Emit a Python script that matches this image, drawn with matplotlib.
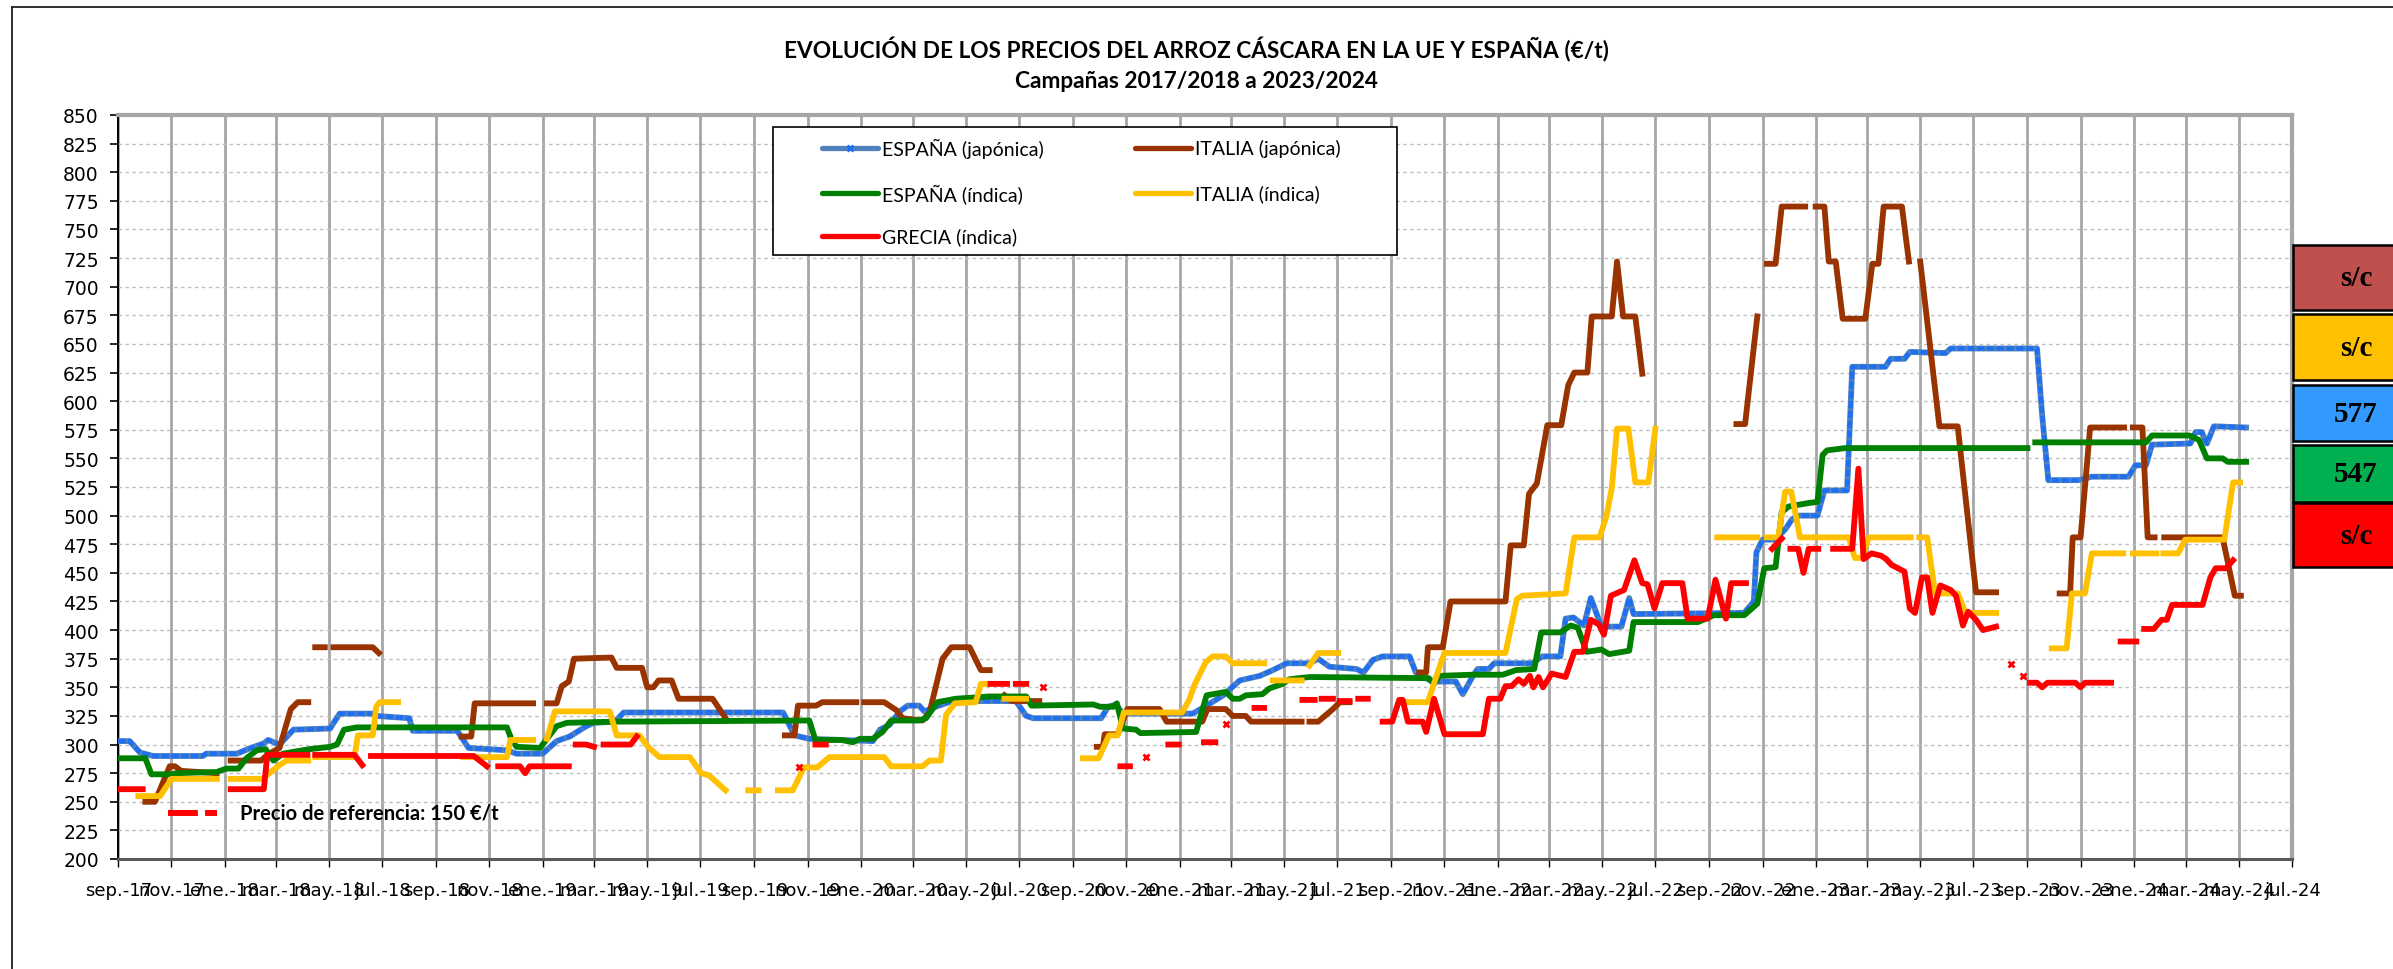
import matplotlib
matplotlib.use("Agg")
import matplotlib.pyplot as plt
from matplotlib.patches import Rectangle
from matplotlib.lines import Line2D
import numpy as np
import pandas as pd

# ---------------- DATA ----------------
esp_japonica = [
    ("2017-09-01",303),("2017-09-14",303),("2017-09-26",293),("2017-10-11",290),("2017-12-07",290),
    ("2017-12-11",292),("2018-01-15",292),("2018-01-31",297),("2018-02-15",301),("2018-02-20",304),
    ("2018-03-05",300),("2018-03-21",313),("2018-05-02",314),("2018-05-13",327),("2018-06-20",327),
    ("2018-06-24",325),("2018-07-13",324),("2018-08-01",323),("2018-08-05",312),("2018-09-25",312),
    ("2018-10-08",297),("2018-11-21",295),("2018-12-02",292),("2019-01-01",292),("2019-01-17",303),
    ("2019-02-01",307),("2019-02-20",316),("2019-03-01",319),("2019-03-25",320),("2019-04-04",328),
    ("2019-10-04",328),("2019-10-17",308),("2019-11-03",305),("2020-01-15",303),("2020-01-23",313),
    ("2020-02-03",317),("2020-02-15",329),("2020-02-24",334),("2020-03-08",334),("2020-03-14",329),
    ("2020-03-27",333),("2020-04-15",338),("2020-06-27",338),("2020-07-09",325),("2020-07-17",323),
    ("2020-10-03",323),("2020-10-11",333),("2020-10-20",335),("2020-10-28",327),("2021-01-16",327),
    ("2021-02-01",334),("2021-02-20",343),("2021-03-11",356),("2021-04-03",360),("2021-04-18",365),
    ("2021-05-04",371),("2021-05-30",371),("2021-06-09",375),("2021-06-22",368),("2021-07-23",366),
    ("2021-07-31",363),("2021-08-11",374),("2021-08-22",377),("2021-09-22",377),("2021-09-29",363),
    ("2021-10-18",355),("2021-11-14",355),("2021-11-22",344),("2021-12-03",359),("2021-12-09",366),
    ("2021-12-22",366),("2021-12-28",371),("2022-02-10",371),("2022-02-21",377),("2022-03-14",377),
    ("2022-03-20",410),("2022-03-29",411),("2022-04-10",404),("2022-04-18",428),("2022-04-30",403),
    ("2022-05-23",403),("2022-06-01",428),("2022-06-06",414),("2022-10-11",415),("2022-10-22",425),
    ("2022-10-25",468),("2022-11-01",479),("2022-11-16",479),("2022-11-28",489),("2022-12-05",497),
    ("2022-12-13",500),("2023-01-03",500),("2023-01-11",522),("2023-02-06",522),("2023-02-12",630),
    ("2023-03-22",630),("2023-03-28",637),("2023-04-13",637),("2023-04-19",643),("2023-05-30",642),
    ("2023-06-05",646),("2023-09-12",646),("2023-09-18",587),("2023-09-25",531),("2023-10-30",531),
    ("2023-11-14",534),("2023-12-26",534),("2024-01-03",544),("2024-01-15",544),("2024-01-22",562),
    ("2024-03-06",563),("2024-03-12",573),("2024-03-19",573),("2024-03-25",563),("2024-04-02",578),
    ("2024-05-09",577),
]

ita_japonica = [
    ("2017-10-02",250),("2017-10-13",250),("2017-10-30",281),("2017-11-05",281),("2017-11-12",277),
    ("2017-12-23",275),None,
    ("2018-01-08",286),("2018-02-12",286),("2018-02-19",291),("2018-03-05",297),("2018-03-18",331),
    ("2018-03-26",337),("2018-04-07",337),None,
    ("2018-04-15",385),("2018-04-26",385),None,
    ("2018-05-06",385),("2018-06-20",385),("2018-06-27",380),None,
    ("2018-09-30",307),("2018-10-11",307),("2018-10-15",336),("2018-12-21",336),None,
    ("2019-01-06",336),("2019-01-17",336),("2019-01-23",351),("2019-01-31",355),("2019-02-06",375),
    ("2019-03-21",376),("2019-03-27",367),("2019-04-25",367),("2019-05-01",350),("2019-05-08",350),
    ("2019-05-14",356),("2019-05-29",356),("2019-06-06",340),("2019-07-15",340),("2019-07-30",323),None,
    ("2019-10-06",308),("2019-10-17",308),("2019-10-21",334),("2019-11-11",334),("2019-11-18",337),
    ("2019-12-27",337),None,
    ("2020-01-05",337),("2020-01-28",337),("2020-02-03",334),("2020-02-11",330),("2020-02-18",323),
    ("2020-03-12",321),("2020-03-20",328),("2020-04-04",375),("2020-04-14",385),("2020-05-05",385),
    ("2020-05-18",365),("2020-05-28",365),None,
    ("2020-06-14",343),("2020-06-22",338),("2020-07-24",338),None,
    ("2020-09-28",298),("2020-10-05",298),("2020-10-07",309),("2020-10-22",309),("2020-11-02",331),
    ("2020-12-09",331),("2020-12-17",320),("2021-01-27",320),("2021-02-02",331),("2021-02-23",331),
    ("2021-03-03",325),("2021-03-18",325),("2021-03-24",320),("2021-05-21",320),None,
    ("2021-05-30",320),("2021-06-09",320),("2021-06-26",331),("2021-07-04",337),("2021-07-15",337),None,
    ("2021-10-03",363),("2021-10-11",363),("2021-10-13",385),("2021-10-30",385),("2021-11-08",425),
    ("2022-01-10",425),("2022-01-16",474),("2022-01-31",474),("2022-02-06",519),("2022-02-15",528),
    ("2022-02-27",579),("2022-03-15",579),("2022-03-23",614),("2022-03-30",625),("2022-04-14",625),
    ("2022-04-19",674),("2022-05-12",674),("2022-05-18",722),("2022-05-25",674),("2022-06-08",674),
    ("2022-06-16",624),None,
    ("2022-10-02",580),("2022-10-12",580),("2022-10-26",674),None,
    ("2022-11-06",720),("2022-11-16",720),("2022-11-23",770),("2022-12-20",770),None,
    ("2023-01-01",770),("2023-01-11",770),("2023-01-16",722),("2023-01-24",722),("2023-02-01",672),
    ("2023-02-27",672),("2023-03-07",720),("2023-03-14",720),("2023-03-20",770),("2023-04-10",770),
    ("2023-04-18",722),None,
    ("2023-05-01",722),("2023-05-23",578),("2023-06-13",578),("2023-07-04",433),("2023-07-27",433),None,
    ("2023-10-08",432),("2023-10-20",432),("2023-10-23",481),("2023-11-01",481),("2023-11-12",577),
    ("2023-12-21",577),None,
    ("2023-12-31",577),("2024-01-11",577),("2024-01-17",481),("2024-01-25",481),None,
    ("2024-02-05",481),("2024-04-12",481),("2024-04-26",430),("2024-05-03",430),
]

esp_indica = [
    ("2017-09-01",288),("2017-10-02",288),("2017-10-09",274),("2017-11-01",274),("2017-11-07",275),
    ("2017-12-23",276),("2018-01-03",279),("2018-01-17",279),("2018-01-26",288),("2018-02-07",295),
    ("2018-02-17",296),("2018-02-26",286),("2018-03-09",292),("2018-03-24",294),("2018-04-09",296),
    ("2018-05-02",298),("2018-05-10",300),("2018-05-18",313),("2018-06-02",315),("2018-11-21",315),
    ("2018-11-26",305),("2018-12-02",298),("2018-12-29",297),("2019-01-06",305),("2019-01-17",316),
    ("2019-01-29",319),("2019-03-27",320),("2019-11-03",321),("2019-11-10",304),("2019-12-10",304),
    ("2019-12-23",302),("2019-12-31",305),("2020-01-15",305),("2020-01-26",311),("2020-02-05",321),
    ("2020-03-08",321),("2020-03-16",323),("2020-03-29",337),("2020-04-19",340),("2020-05-28",342),
    ("2020-07-09",342),("2020-07-15",334),("2020-09-24",335),("2020-10-02",333),("2020-10-17",333),
    ("2020-10-21",336),("2020-10-28",314),("2020-11-12",313),("2020-11-17",310),("2021-01-20",311),
    ("2021-02-01",343),("2021-02-23",346),("2021-03-03",340),("2021-03-11",340),("2021-03-18",343),
    ("2021-04-06",344),("2021-04-14",349),("2021-04-29",353),("2021-05-07",357),("2021-05-30",359),
    ("2021-10-14",358),("2021-10-20",353),("2021-10-26",360),("2021-12-03",361),("2022-01-07",361),
    ("2022-01-22",365),("2022-02-12",366),("2022-02-20",398),("2022-03-14",398),("2022-03-26",404),
    ("2022-04-03",402),("2022-04-13",381),("2022-04-30",383),("2022-05-09",379),("2022-06-01",382),
    ("2022-06-06",407),("2022-08-19",407),("2022-09-06",413),("2022-10-11",413),("2022-10-20",419),
    ("2022-10-26",423),("2022-11-03",454),("2022-11-16",455),("2022-11-23",503),("2022-12-01",508),
    ("2022-12-24",511),("2023-01-03",512),("2023-01-09",553),("2023-01-14",557),("2023-02-04",559),
    ("2023-09-01",559),None,
    ("2023-09-10",564),("2024-01-15",564),("2024-01-22",570),("2024-03-05",570),("2024-03-16",566),
    ("2024-03-25",550),("2024-04-12",550),("2024-04-18",547),("2024-05-09",547),
]

ita_indica = [
    ("2017-09-24",255),("2017-10-19",255),("2017-11-01",270),("2017-12-23",270),None,
    ("2018-01-08",270),("2018-02-13",270),("2018-02-23",276),("2018-03-05",282),("2018-03-13",286),
    ("2018-04-07",286),None,
    ("2018-04-15",289),("2018-05-30",289),("2018-06-03",308),("2018-06-20",308),("2018-06-24",333),
    ("2018-06-28",337),("2018-07-19",337),None,
    ("2018-10-02",289),("2018-11-21",289),("2018-11-25",304),("2018-12-21",304),None,
    ("2019-01-06",305),("2019-01-15",329),("2019-03-19",329),("2019-03-27",308),("2019-04-22",308),
    ("2019-05-02",298),("2019-05-15",289),("2019-06-19",289),("2019-07-02",275),("2019-07-11",273),
    ("2019-07-30",260),None,
    ("2019-08-25",260),("2019-09-06",260),None,
    ("2019-09-28",260),("2019-10-15",260),("2019-10-28",280),("2019-11-12",280),("2019-11-26",289),
    ("2020-01-28",289),("2020-02-05",281),("2020-03-12",281),("2020-03-20",286),("2020-04-02",286),
    ("2020-04-08",326),("2020-04-18",336),("2020-05-12",337),("2020-05-18",353),("2020-05-28",353),None,
    ("2020-06-14",340),("2020-07-09",340),None,
    ("2020-09-12",288),("2020-09-30",288),("2020-10-12",308),("2020-10-22",308),("2020-10-29",328),
    ("2021-01-04",328),("2021-01-12",339),("2021-01-18",352),("2021-01-31",372),("2021-02-08",377),
    ("2021-02-23",377),("2021-03-03",371),("2021-04-08",371),None,
    ("2021-04-18",356),("2021-05-21",356),None,
    ("2021-05-30",369),("2021-06-09",380),("2021-07-02",380),None,
    ("2021-09-20",337),("2021-10-13",337),("2021-10-22",358),("2021-11-01",380),("2022-01-10",380),
    ("2022-01-23",427),("2022-01-29",430),("2022-03-20",432),("2022-03-30",481),("2022-04-28",481),
    ("2022-05-06",500),("2022-05-12",524),("2022-05-18",576),("2022-05-31",576),("2022-06-08",529),
    ("2022-06-23",529),("2022-07-01",576),None,
    ("2022-09-10",481),("2022-10-26",481),None,
    ("2022-11-06",481),("2022-11-19",481),("2022-11-27",521),("2022-12-04",521),("2022-12-14",481),
    ("2022-12-27",481),None,
    ("2023-01-01",481),("2023-02-08",481),("2023-02-15",463),("2023-02-23",463),("2023-03-03",481),
    ("2023-04-20",481),None,
    ("2023-04-30",481),("2023-05-09",481),("2023-05-18",432),("2023-06-13",432),("2023-06-22",415),
    ("2023-07-27",415),None,
    ("2023-09-29",384),("2023-10-16",384),("2023-10-22",432),("2023-11-06",432),("2023-11-14",467),
    ("2023-12-20",467),None,
    ("2023-12-31",467),("2024-01-27",467),None,
    ("2024-02-04",467),("2024-02-21",467),("2024-02-29",479),("2024-04-14",479),("2024-04-24",529),
    ("2024-05-02",529),
]

grecia_indica = [
    ("2017-09-01",261),("2017-09-29",261),None,
    ("2018-01-08",261),("2018-02-15",261),("2018-02-19",291),("2018-04-06",291),None,
    ("2018-04-15",291),("2018-05-30",291),("2018-06-08",282),None,
    ("2018-06-18",290),("2018-10-14",290),("2018-10-29",281),None,
    ("2018-11-11",281),("2018-12-06",281),("2018-12-12",275),("2018-12-17",281),("2019-01-31",281),None,
    ("2019-02-08",300),("2019-02-20",300),("2019-03-01",298),None,
    ("2019-03-12",300),("2019-04-12",300),("2019-04-19",307),None,
    ("2019-11-10",300),("2019-11-22",300),None,
    ("2020-05-29",353),("2020-06-17",353),None,
    ("2020-06-27",353),("2020-07-09",353),None,
    ("2020-10-25",281),("2020-11-05",281),None,
    ("2020-12-19",300),("2020-12-31",300),None,
    ("2021-01-29",302),("2021-02-11",302),None,
    ("2021-03-28",332),("2021-04-08",332),None,
    ("2021-05-22",339),("2021-06-05",339),None,
    ("2021-06-13",340),("2021-06-26",340),None,
    ("2021-07-04",338),("2021-07-15",338),None,
    ("2021-07-25",340),("2021-08-05",340),None,
    ("2021-08-22",320),("2021-09-02",320),("2021-09-10",339),("2021-09-14",339),("2021-09-20",320),
    ("2021-10-07",320),("2021-10-11",311),("2021-10-20",340),("2021-11-01",309),("2021-12-15",309),
    ("2021-12-22",340),("2022-01-04",340),("2022-01-10",351),("2022-01-17",351),("2022-01-25",357),
    ("2022-01-31",353),("2022-02-07",360),("2022-02-11",350),("2022-02-17",359),("2022-02-22",350),
    ("2022-03-04",362),("2022-03-20",359),("2022-03-30",381),("2022-04-09",381),("2022-04-18",409),
    ("2022-04-27",405),("2022-05-03",396),("2022-05-11",430),("2022-05-26",435),("2022-06-07",461),
    ("2022-06-16",441),("2022-06-22",440),("2022-06-30",419),("2022-07-09",441),("2022-08-01",441),
    ("2022-08-07",410),("2022-08-30",410),("2022-09-08",444),("2022-09-20",410),("2022-09-26",441),
    ("2022-10-13",441),None,
    ("2022-11-12",471),("2022-11-23",480),None,
    ("2022-12-03",471),("2022-12-12",471),("2022-12-18",450),("2022-12-24",471),("2023-01-04",471),None,
    ("2023-01-21",471),("2023-02-12",471),("2023-02-19",541),("2023-02-25",462),("2023-03-06",467),
    ("2023-03-17",465),("2023-03-23",462),("2023-03-29",457),("2023-04-13",451),("2023-04-19",419),
    ("2023-04-25",415),("2023-05-03",446),("2023-05-09",446),("2023-05-15",415),("2023-05-24",439),
    ("2023-06-05",435),("2023-06-11",430),("2023-06-19",404),("2023-06-25",416),("2023-07-04",409),
    ("2023-07-12",400),("2023-07-27",403),None,
    ("2023-09-04",354),("2023-09-12",354),("2023-09-18",350),("2023-09-24",354),("2023-10-26",354),
    ("2023-11-01",350),("2023-11-06",354),("2023-12-06",354),None,
    ("2023-12-17",390),("2024-01-04",390),None,
    ("2024-01-13",401),("2024-01-24",401),("2024-02-02",409),("2024-02-08",409),("2024-02-14",422),
    ("2024-03-20",422),("2024-03-29",446),("2024-04-04",454),("2024-04-16",454),("2024-04-24",461),
]

grecia_single_points = [
    ("2019-10-22",280),("2020-07-28",350),("2020-11-23",289),("2021-02-23",318),
    ("2023-08-13",370),("2023-08-27",360),
]

series_names = ["ESPAÑA (japónica)", "ITALIA (japónica)", "ESPAÑA (índica)",
                "ITALIA (índica)", "GRECIA (índica)"]

tick_labels = [
    "sep.-17","nov.-17","ene.-18","mar.-18","may.-18","jul.-18",
    "sep.-18","nov.-18","ene.-19","mar.-19","may.-19","jul.-19",
    "sep.-19","nov.-19","ene.-20","mar.-20","may.-20","jul.-20",
    "sep.-20","nov.-20","ene.-21","mar.-21","may.-21","jul.-21",
    "sep.-21","nov.-21","ene.-22","mar.-22","may.-22","jul.-22",
    "sep.-22","nov.-22","ene.-23","mar.-23","may.-23","jul.-23",
    "sep.-23","nov.-23","ene.-24","mar.-24","may.-24","jul.-24",
]

last_values = ["s/c", "s/c", "577", "547", "s/c"]   # ITALIA jap, ITALIA ind, ESPAÑA jap, ESPAÑA ind, GRECIA

title_1 = "EVOLUCIÓN DE LOS PRECIOS DEL ARROZ CÁSCARA EN LA UE Y ESPAÑA (€/t)"
title_2 = "Campañas 2017/2018 a 2023/2024"
ref_text = "Precio de referencia: 150 €/t"

# ---------------- HELPERS ----------------
W, H = 2393, 970
def fx(px): return px / W
def fy(py): return 1 - py / H

def to_xy(pairs):
    dates, vals = [], []
    last = None
    for p in pairs:
        if p is None:
            dates.append(last); vals.append(np.nan)
        else:
            dates.append(p[0]); vals.append(float(p[1])); last = p[0]
    return pd.to_datetime(dates), np.array(vals)

C_BLUE, C_BLUE_MK = "#4F81BD", "#1F6FF2"
C_BROWN, C_GREEN, C_YELLOW, C_RED = "#993300", "#008000", "#FFC000", "#FF0000"

SANS = "Lato"

# ---------------- FIGURE ----------------
fig = plt.figure(figsize=(W/100, H/100), dpi=100)
fig.patch.set_facecolor("white")

ax = fig.add_axes([fx(118.3), fy(860), fx(2292.3) - fx(118.3), (860 - 116) / H])
ax.set_facecolor("white")

LW = 4.2
d, v = to_xy(esp_japonica)
ax.plot(d, v, color=C_BLUE, lw=LW, zorder=3)
ax.plot(d, v, color=C_BLUE_MK, lw=LW-1.0, linestyle=(0, (1.6, 0.6)), zorder=3.1)
d, v = to_xy(ita_japonica)
ax.plot(d, v, color=C_BROWN, lw=LW, zorder=4)
d, v = to_xy(esp_indica)
ax.plot(d, v, color=C_GREEN, lw=LW, zorder=5)
d, v = to_xy(ita_indica)
ax.plot(d, v, color=C_YELLOW, lw=LW, zorder=6)
d, v = to_xy(grecia_indica)
ax.plot(d, v, color=C_RED, lw=LW, zorder=7)
sd = pd.to_datetime([p[0] for p in grecia_single_points])
sv = [p[1] for p in grecia_single_points]
ax.plot(sd, sv, linestyle="none", marker="x", ms=5, mew=2, color=C_RED, zorder=7)

ax.set_xlim(pd.Timestamp("2017-09-01"), pd.Timestamp("2024-07-01"))
ax.set_ylim(200, 850)
ax.set_yticks(np.arange(200, 851, 25))
tick_dates = pd.date_range("2017-09-01", "2024-07-01", freq="2MS")
ax.set_xticks(tick_dates)
ax.set_xticklabels(tick_labels)

ax.set_axisbelow(True)
ax.yaxis.grid(True, color="#BFBFBF", lw=1.0, linestyle=(0, (2.5, 2.5)))
ax.xaxis.grid(True, color="#A6A6A6", lw=2.0)

for s in ("top", "right"):
    ax.spines[s].set_color("#A6A6A6")
    ax.spines[s].set_linewidth(3)
ax.spines["left"].set_color("black")
ax.spines["left"].set_linewidth(1.4)
ax.spines["bottom"].set_color("#595959")
ax.spines["bottom"].set_linewidth(2.2)

ax.tick_params(axis="y", direction="out", length=6, width=1.2, pad=8, labelsize=13.5)
ax.tick_params(axis="x", direction="out", length=6, width=1.0, pad=10, labelsize=13)

# ---------------- TITLE ----------------
fig.text(0.5, fy(50), title_1, ha="center", va="center", fontsize=16.3,
         fontweight="bold", family=SANS)
fig.text(0.5, fy(82), title_2, ha="center", va="center", fontsize=16.3,
         fontweight="bold", family=SANS)

# ---------------- LEGEND (manual box) ----------------
fig.patches.append(Rectangle((fx(772.5), fy(256)), fx(1397) - fx(772.5), (256 - 128) / H,
                             transform=fig.transFigure, facecolor="white",
                             edgecolor="black", lw=1.2, zorder=10))
leg_cols = [C_BLUE, C_BROWN, C_GREEN, C_YELLOW, C_RED]
leg_pos = [(822, 149), (1135, 149), (822, 194), (1135, 194), (822, 237)]
for name, col, (lx, ly) in zip(series_names, leg_cols, leg_pos):
    fig.lines.append(Line2D([fx(lx), fx(lx + 56)], [fy(ly), fy(ly)], transform=fig.transFigure,
                            color=col, lw=3.8, solid_capstyle="round", zorder=11))
    fig.text(fx(lx + 60), fy(ly), name, ha="left", va="center", fontsize=14,
             family=SANS, zorder=12)
fig.lines.append(Line2D([fx(822 + 28)], [fy(149)], transform=fig.transFigure, marker="x",
                        ms=5, mew=2, color=C_BLUE_MK, linestyle="none", zorder=12))

# ---------------- REFERENCE NOTE ----------------
fig.lines.append(Line2D([fx(168), fx(217)], [fy(814), fy(814)], transform=fig.transFigure,
                        color=C_RED, lw=4.3, linestyle=(0, (5, 1.2)), zorder=11))
fig.text(fx(240), fy(814), ref_text, ha="left", va="center", fontsize=14.5,
         fontweight="bold", family=SANS, zorder=12)

# ---------------- LAST VALUE BOXES ----------------
box_tops = [246, 315, 386, 446, 504]
box_bots = [311, 381, 442, 503, 568]
box_cols = ["#C0504D", "#FFC000", "#3399FF", "#00B050", "#FF0000"]
for t, b, c, txt in zip(box_tops, box_bots, box_cols, last_values):
    fig.patches.append(Rectangle((fx(2293), fy(b)), fx(140), (b - t) / H,
                                 transform=fig.transFigure, facecolor=c,
                                 edgecolor="black", lw=1.8, zorder=10, clip_on=False))
    fig.text(fx(2356), fy((t + b) / 2), txt, ha="center", va="center", fontsize=21,
             fontweight="bold", family="Liberation Serif", zorder=12)

# ---------------- OUTER BORDER ----------------
fig.lines.append(Line2D([fx(12), fx(12)], [fy(8), fy(970)], transform=fig.transFigure,
                        color="#202020", lw=1.3))
fig.lines.append(Line2D([fx(12), fx(2393)], [fy(8), fy(8)], transform=fig.transFigure,
                        color="#202020", lw=1.3))

fig.savefig("out.png", dpi=100, facecolor="white")
